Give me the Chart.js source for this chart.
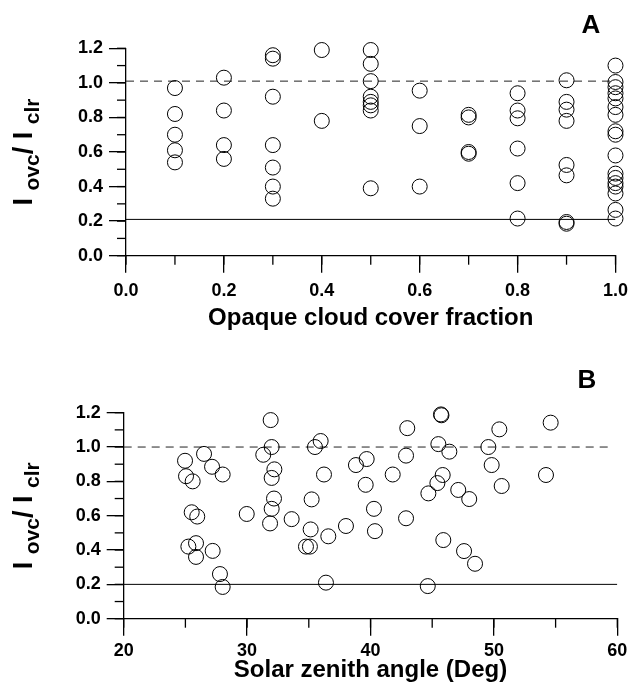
<!DOCTYPE html>
<html lang="en">
<head>
<meta charset="UTF-8">
<title>Iovc/Iclr vs cloud cover fraction and solar zenith angle</title>
<script src="https://cdn.jsdelivr.net/npm/chart.js"></script>
<style>
  body { margin: 0; background: #fff; }
  canvas { position: absolute; left: 0; }
</style>
</head>
<body>
<canvas id="chartA" style="top:0" width="636" height="345"></canvas>
<canvas id="chartB" style="top:345px" width="636" height="345"></canvas>
<script>
// Panel A: opaque cloud cover fraction
const cloudFraction = [
  0.1, 0.1, 0.1, 0.1, 0.1,
  0.2, 0.2, 0.2, 0.2,
  0.3, 0.3, 0.3, 0.3, 0.3, 0.3, 0.3,
  0.4, 0.4,
  0.5, 0.5, 0.5, 0.5, 0.5, 0.5, 0.5, 0.5,
  0.6, 0.6, 0.6,
  0.7, 0.7, 0.7, 0.7,
  0.8, 0.8, 0.8, 0.8, 0.8, 0.8,
  0.9, 0.9, 0.9, 0.9, 0.9, 0.9, 0.9, 0.9,
  1.0, 1.0, 1.0, 1.0, 1.0, 1.0, 1.0, 1.0, 1.0, 1.0, 1.0, 1.0, 1.0, 1.0, 1.0, 1.0, 1.0
];
const ratioA = [
  0.97, 0.82, 0.70, 0.61, 0.54,
  1.03, 0.84, 0.64, 0.56,
  1.16, 1.14, 0.92, 0.64, 0.51, 0.40, 0.33,
  1.19, 0.78,
  1.19, 1.11, 1.01, 0.92, 0.89, 0.87, 0.84, 0.39,
  0.955, 0.75, 0.40,
  0.815, 0.80, 0.60, 0.59,
  0.94, 0.84, 0.795, 0.62, 0.42, 0.215,
  1.015, 0.89, 0.845, 0.78, 0.525, 0.465, 0.195, 0.185,
  1.10, 1.005, 0.975, 0.94, 0.91, 0.86, 0.815, 0.72, 0.70, 0.58, 0.475, 0.45, 0.42, 0.40, 0.36, 0.265, 0.215
];

// Panel B: solar zenith angle (deg)
const zenithAngle = [
  24.97, 25.05, 25.59, 26.51, 27.16, 28.02, 25.51, 25.96, 25.24, 25.86,
  25.86, 27.21, 27.80, 28.02, 29.97, 31.31, 31.91, 31.99, 32.21, 31.99,
  32.18, 31.99, 31.86, 33.61, 35.23, 35.15, 34.77, 35.09, 35.50, 35.96,
  36.23, 36.58, 36.39, 38.01, 38.82, 39.69, 39.61, 40.28, 40.36, 41.80,
  42.98, 42.88, 42.88, 44.69, 44.64, 45.71, 45.75, 45.50, 46.39, 45.85,
  45.42, 45.90, 47.11, 48.00, 47.58, 48.47, 49.55, 49.82, 50.44, 50.63,
  54.60, 54.22
];
const ratioB = [
  0.92, 0.83, 0.80, 0.96, 0.885, 0.84, 0.62, 0.595, 0.42, 0.44,
  0.36, 0.395, 0.26, 0.185, 0.61, 0.955, 1.157, 1.0, 0.87, 0.82,
  0.70, 0.64, 0.555, 0.58, 0.695, 0.52, 0.42, 0.42, 1.0, 1.035,
  0.84, 0.48, 0.21, 0.54, 0.895, 0.93, 0.78, 0.64, 0.51, 0.84,
  1.11, 0.95, 0.585, 0.73, 0.19, 1.19, 1.185, 1.017, 0.973, 0.837,
  0.79, 0.458, 0.75, 0.697, 0.394, 0.32, 1.0, 0.895, 1.103, 0.773,
  1.142, 0.837
];

// reference levels: [dashed, solid]
const levelsA = [1.01, 0.21];
const levelsB = [1.0, 0.2];
const dashSpanA = [0, 1];
const dashSpanB = [20, 59.4];
const solidSpanB = [20, 60];

const FONT = "'Liberation Sans', Arial, Helvetica, sans-serif";
Chart.defaults.font.family = FONT;
Chart.defaults.color = '#000';

// short ticks between the labelled ones
const minorTicks = {
  id: 'minorTicks',
  afterDraw(chart, args, opts) {
    const ctx = chart.ctx, area = chart.chartArea;
    ctx.save();
    ctx.strokeStyle = '#000';
    ctx.lineWidth = 1.3;
    ['x', 'y'].forEach(id => {
      const s = chart.scales[id], step = opts[id];
      for (let i = 0; s.min + i * step <= s.max + 1e-9; i++) {
        const p = s.getPixelForValue(s.min + i * step);
        ctx.beginPath();
        if (id === 'x') {
          ctx.moveTo(p, area.bottom);
          ctx.lineTo(p, area.bottom + opts.length);
        } else {
          ctx.moveTo(area.left, p);
          ctx.lineTo(area.left - opts.length, p);
        }
        ctx.stroke();
      }
    });
    ctx.restore();
  }
};

// y title "I ovc / I clr" with subscripts, rotated
const ratioTitle = {
  id: 'ratioTitle',
  afterDraw(chart, args, opts) {
    const ctx = chart.ctx, area = chart.chartArea;
    const main = 'bold 27px ' + FONT, sub = 'bold 21px ' + FONT;
    const parts = [['I', main, 0], [' ', main, 0], ['ovc', sub, opts.shift], ['/', main, 0],
                   [' ', main, 0], ['I', main, 0], [' ', main, 0], ['clr', sub, opts.shift]];
    ctx.save();
    let total = 0;
    parts.forEach(p => { ctx.font = p[1]; total += ctx.measureText(p[0]).width; });
    ctx.translate(opts.x, (area.top + area.bottom) / 2);
    ctx.rotate(-Math.PI / 2);
    ctx.fillStyle = '#000';
    ctx.textBaseline = 'alphabetic';
    let x = -total / 2;
    parts.forEach(p => {
      ctx.font = p[1];
      ctx.fillText(p[0], x, p[2]);
      x += ctx.measureText(p[0]).width;
    });
    ctx.restore();
  }
};

const panelLabel = {
  id: 'panelLabel',
  afterDraw(chart, args, opts) {
    const ctx = chart.ctx;
    ctx.save();
    ctx.font = 'bold 26px ' + FONT;
    ctx.fillStyle = '#000';
    ctx.textAlign = 'center';
    ctx.textBaseline = 'middle';
    ctx.fillText(opts.text, opts.x, opts.y);
    ctx.restore();
  }
};

function buildChart(id, o) {
  const pts = o.xs.map((x, i) => ({ x: x, y: o.ys[i] }));
  return new Chart(document.getElementById(id), {
    type: 'scatter',
    data: {
      datasets: [
        {
          data: pts,
          clip: false,
          pointRadius: 7.5,
          pointHoverRadius: 7.5,
          borderColor: '#000',
          borderWidth: 1,
          backgroundColor: 'rgba(0,0,0,0)'
        },
        {
          data: o.dashSpan.map(x => ({ x: x, y: o.levels[0] })),
          showLine: true,
          pointRadius: 0,
          borderColor: '#222',
          borderWidth: 1,
          borderDash: [8, 6]
        },
        {
          data: o.solidSpan.map(x => ({ x: x, y: o.levels[1] })),
          showLine: true,
          pointRadius: 0,
          borderColor: '#000',
          borderWidth: 1
        }
      ]
    },
    options: {
      responsive: false,
      animation: false,
      layout: { padding: { top: o.top, right: o.right, left: 0, bottom: 0 } },
      plugins: {
        legend: { display: false },
        tooltip: { enabled: false },
        minorTicks: { x: o.minorX, y: 0.1, length: 9 },
        ratioTitle: { x: 32, shift: 7 },
        panelLabel: { text: o.label, x: o.labelX, y: o.labelY }
      },
      scales: {
        x: {
          type: 'linear',
          min: o.xMin,
          max: o.xMax,
          ticks: {
            stepSize: o.xStep,
            padding: o.xTickPad,
            font: { size: 18, weight: 'bold' },
            callback: o.xFormat
          },
          grid: { drawOnChartArea: false, tickLength: 17, color: '#000', lineWidth: 1.3 },
          border: { color: '#000', width: 1.3 },
          title: {
            display: true,
            text: o.xTitle,
            font: { size: 24, weight: 'bold' },
            padding: { top: 0, bottom: o.titlePad }
          },
          afterFit(s) { s.height = o.xHeight; }
        },
        y: {
          type: 'linear',
          min: 0,
          max: 1.2,
          ticks: {
            stepSize: 0.2,
            padding: 6,
            font: { size: 18, weight: 'bold' },
            callback: v => v.toFixed(1)
          },
          grid: { drawOnChartArea: false, tickLength: 17, color: '#000', lineWidth: 1.3 },
          border: { color: '#000', width: 1.3 },
          afterFit(s) { s.width = o.yWidth; }
        }
      }
    },
    plugins: [minorTicks, ratioTitle, panelLabel]
  });
}

buildChart('chartA', {
  xs: cloudFraction, ys: ratioA,
  levels: levelsA, dashSpan: dashSpanA, solidSpan: dashSpanA,
  xMin: 0, xMax: 1, xStep: 0.2, minorX: 0.1,
  xFormat: v => v.toFixed(1),
  xTitle: 'Opaque cloud cover fraction',
  top: 48.3, right: 16, yWidth: 126, xHeight: 89.3, xTickPad: 8, titlePad: 12,
  label: 'A', labelX: 591, labelY: 26
});

buildChart('chartB', {
  xs: zenithAngle, ys: ratioB,
  levels: levelsB, dashSpan: dashSpanB, solidSpan: solidSpanB,
  xMin: 20, xMax: 60, xStep: 10, minorX: 5,
  xFormat: v => v.toFixed(0),
  xTitle: 'Solar zenith angle (Deg)',
  top: 67.7, right: 18.7, yWidth: 123.7, xHeight: 71.3, xTickPad: 4.5, titlePad: 5,
  label: 'B', labelX: 587, labelY: 36
});
</script>
</body>
</html>
